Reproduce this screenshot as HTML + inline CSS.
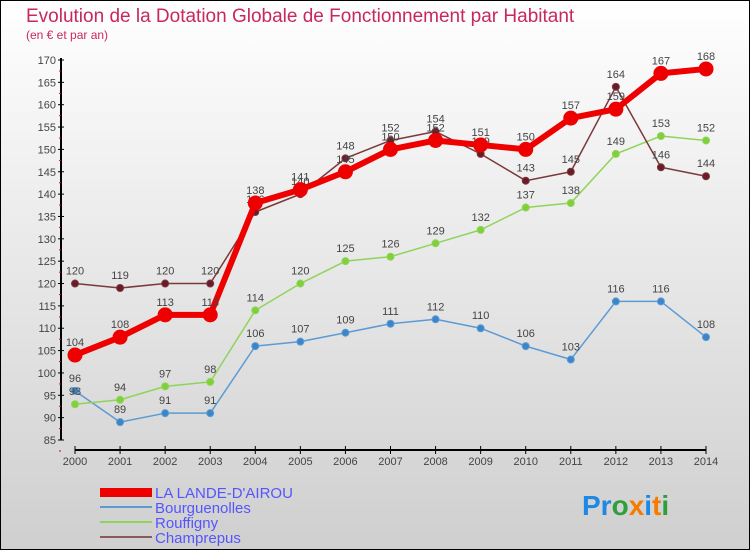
<!DOCTYPE html>
<html><head><meta charset="utf-8"><style>
body{margin:0;width:750px;height:550px;overflow:hidden}
svg text{font-family:"Liberation Sans",sans-serif}
</style></head><body>
<svg width="750" height="550">
<defs><linearGradient id="bg" x1="0" y1="0" x2="0" y2="1"><stop offset="0" stop-color="#ffffff"/><stop offset="1" stop-color="#cfcfcf"/></linearGradient></defs>
<rect x="0.5" y="0.5" width="749" height="549" fill="url(#bg)" stroke="#000"/>
<text x="26" y="22" font-size="19" fill="#c8285a">Evolution de la Dotation Globale de Fonctionnement par Habitant</text>
<text x="26" y="39" font-size="12" fill="#c8285a">(en € et par an)</text>
<g id="axes"></g><g id="series"></g>
<g>
<rect x="100" y="488" width="52" height="9" fill="#ee0000"/>
<text x="155" y="498" font-size="15" fill="#5555ff">LA LANDE-D'AIROU</text>
<rect x="100" y="506" width="52" height="2" fill="#5b9bd5"/>
<text x="155" y="513" font-size="15" fill="#5555ff">Bourguenolles</text>
<rect x="100" y="521" width="52" height="2" fill="#8fd45a"/>
<text x="155" y="528" font-size="15" fill="#5555ff">Rouffigny</text>
<rect x="100" y="536" width="52" height="2" fill="#8a5a5a"/>
<text x="155" y="543" font-size="15" fill="#5555ff">Champrepus</text>
</g>
<text x="582" y="515" font-size="28" font-weight="bold"><tspan fill="#1e88e5">Pr</tspan><tspan fill="#2e9e3e">o</tspan><tspan fill="#f57c00">x</tspan><tspan fill="#1e88e5">i</tspan><tspan fill="#f57c00">t</tspan><tspan fill="#2e9e3e">i</tspan></text>
</svg>
<script>
const years=[2000,2001,2002,2003,2004,2005,2006,2007,2008,2009,2010,2011,2012,2013,2014];
const yTicks=[85,90,95,100,105,110,115,120,125,130,135,140,145,150,155,160,165,170];
const laLande=[104,108,113,113,138,141,145,150,152,151,150,157,159,167,168];
const bourguenolles=[96,89,91,91,106,107,109,111,112,110,106,103,116,116,108];
const rouffigny=[93,94,97,98,114,120,125,126,129,132,137,138,149,153,152];
const champrepus=[120,119,120,120,136,140,148,152,154,149,143,145,164,146,144];
const NS="http://www.w3.org/2000/svg";
function X(i){return 75+i*(706-75)/(years.length-1);}
function Y(v){return 440-(v-85)*(380/85);}
function mk(t,a,p){const e=document.createElementNS(NS,t);for(const k in a)e.setAttribute(k,a[k]);p.appendChild(e);return e;}
const ax=document.getElementById('axes');
mk('line',{x1:61,y1:58,x2:61,y2:440,stroke:'#000','stroke-width':2},ax);
mk('line',{x1:75,y1:450,x2:706,y2:450,stroke:'#000','stroke-width':2},ax);
yTicks.forEach(v=>{const y=Y(v);
mk('line',{x1:58,y1:y,x2:64,y2:y,stroke:'#000'},ax);
mk('line',{x1:59,y1:y+11,x2:61,y2:y+11,stroke:'#e00'},ax);
const t=mk('text',{x:56,y:y+4,'font-size':11,fill:'#444','text-anchor':'end'},ax);t.textContent=v;
});
years.forEach((yr,i)=>{const x=X(i);
mk('line',{x1:x,y1:446,x2:x,y2:454,stroke:'#000'},ax);
const t=mk('text',{x:x,y:465,'font-size':11,fill:'#444','text-anchor':'middle'},ax);t.textContent=yr;
});
const sg=document.getElementById('series');
function draw(name,vals,col,w,r,fill,labelAbove){
const g=mk('g',{},sg);
mk('polyline',{points:vals.map((v,i)=>X(i)+','+Y(v)).join(' '),fill:'none',stroke:col,'stroke-width':w,'stroke-linejoin':'round'},g);
vals.forEach((v,i)=>{const c=mk('circle',{cx:X(i),cy:Y(v),r:r,fill:fill,stroke:col,'stroke-width':1},g);

const t=mk('text',{x:X(i),y:Y(v)-9,'font-size':11,fill:'#444','text-anchor':'middle'},g);t.textContent=v;
});}
draw('bourguenolles',bourguenolles,'#5b9bd5',1.5,3.5,'#3d85c6');
draw('rouffigny',rouffigny,'#8fd45a',1.5,3.5,'#7fd03a');
draw('champrepus',champrepus,'#7a3a3a',1.5,3.5,'#6a1a2a');
draw('la-lande',laLande,'#ee0000',6,7,'#ee0000');
</script>
</body></html>
